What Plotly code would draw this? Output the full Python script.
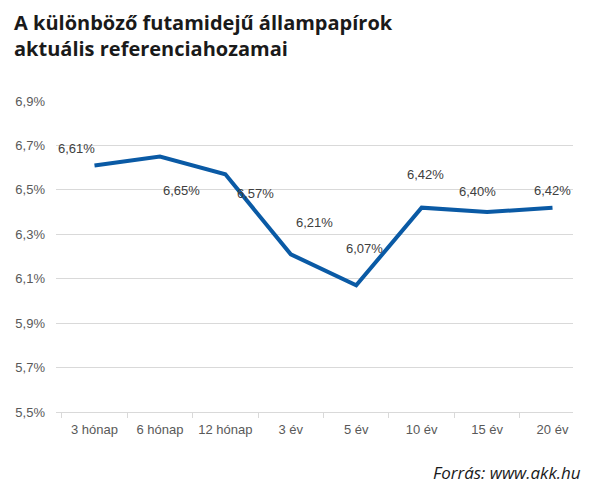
import plotly.graph_objects as go

categories = ["3 hónap", "6 hónap", "12 hónap", "3 év", "5 év", "10 év", "15 év", "20 év"]
yields = [6.61, 6.65, 6.57, 6.21, 6.07, 6.42, 6.40, 6.42]
# label offsets (px) relative to each point, as placed in the original
label_dx = [-18, 22, 30, 24, 8, 4, -10, 0]
label_dy = [17, -34, -19, 32, 37, 33, 21, 17]

fig = go.Figure()
fig.add_trace(go.Scatter(
    x=categories, y=yields, mode="lines",
    line=dict(color="#0a5aa5", width=4),
    showlegend=False, hoverinfo="skip",
))

for c, v, dx, dy in zip(categories, yields, label_dx, label_dy):
    fig.add_annotation(
        x=c, y=v, text=f"{v:.2f}%".replace(".", ","), showarrow=False,
        xshift=dx, yshift=dy,
        font=dict(family="Liberation Sans", size=13, color="#404040"),
    )

fig.add_annotation(
    xref="paper", yref="paper", x=-0.085, y=1.302, xanchor="left", yanchor="top",
    text="<b>A különböző futamidejű állampapírok<br>aktuális referenciahozamai</b>",
    showarrow=False, align="left",
    font=dict(family="Open Sans", size=20, color="#1a1a1a"),
)
fig.add_annotation(
    xref="paper", yref="paper", x=1.019, y=-0.193, xanchor="right", yanchor="middle",
    text="<i>Forrás: www.akk.hu</i>", showarrow=False,
    font=dict(family="Open Sans", size=17, color="#1a1a1a"),
)

fig.update_layout(
    width=600, height=486,
    margin=dict(l=56, r=27, t=101, b=74),
    paper_bgcolor="white", plot_bgcolor="white",
    separators=",.",
    xaxis=dict(
        showline=True, linecolor="#d9d9d9", linewidth=1,
        ticks="outside", tickson="boundaries", ticklen=5, tickcolor="#d9d9d9",
        showgrid=False, ticklabelstandoff=5, automargin=False,
        tickfont=dict(family="Liberation Sans", size=13, color="#595959"),
    ),
    yaxis=dict(
        range=[5.5, 6.9], dtick=0.2, tick0=5.5, tickformat=".1f", ticksuffix="%",
        showgrid=True, gridcolor="#d9d9d9", gridwidth=1, zeroline=False,
        tickfont=dict(family="Liberation Sans", size=13, color="#595959"),
        ticklabelstandoff=10, automargin=False,
    ),
)

fig.write_html("out.html", config={"displayModeBar": False},
               post_script="document.body.style.margin='0';")
